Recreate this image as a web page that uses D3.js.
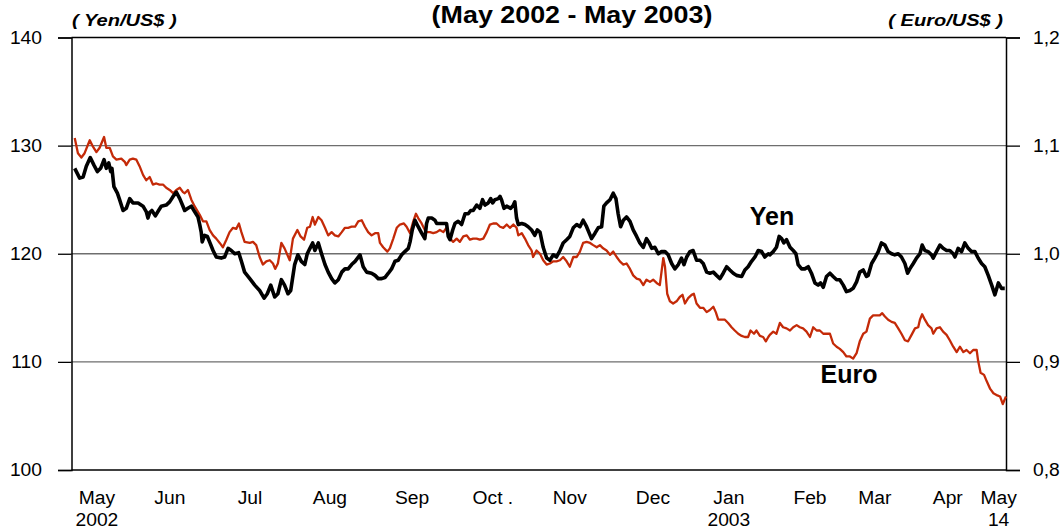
<!DOCTYPE html>
<html><head><meta charset="utf-8">
<script src="https://cdn.jsdelivr.net/npm/d3@7"></script>
<style>body{margin:0;background:#fff}svg{display:block}text{font-family:Arial,"Liberation Sans",sans-serif}</style>
</head><body><svg id="c" width="1064" height="529"></svg>
<script>
// Day offsets from 1 May 2002
const startDate = new Date(2002, 4, 1);
const yenDays = [0.7,2.7,4.1,5.4,7.0,8.5,9.9,11.2,12.6,13.5,14.5,15.3,15.8,16.6,18.0,18.9,20.3,21.6,23.0,24.3,26.4,28.4,29.7,30.4,31.1,32.0,33.4,34.7,35.8,37.8,39.2,40.6,41.9,43.3,44.6,45.3,46.6,48.0,49.3,50.7,51.4,52.0,52.4,53.4,54.5,55.4,56.8,58.1,60.1,61.5,62.9,64.2,65.6,67.2,68.3,69.6,71.7,73.7,75.7,77.5,78.8,80.2,81.8,83.1,84.5,85.8,87.2,88.3,89.9,91.2,92.6,94.0,95.0,96.1,97.2,98.1,99.5,100.8,102.2,103.5,104.9,106.2,107.6,109.0,110.3,111.6,113.0,114.4,116.4,117.7,119.1,121.1,122.5,123.8,125.2,126.5,127.9,129.2,130.6,131.9,133.3,134.6,136.0,136.7,137.6,138.7,140.0,141.4,142.7,143.4,144.1,145.5,146.8,147.5,150.2,151.5,152.2,152.9,154.0,154.9,156.2,157.6,159.0,160.3,161.3,162.3,163.7,165.0,166.1,167.1,168.4,169.4,170.2,171.1,172.5,173.2,173.8,174.8,175.9,177.5,178.6,179.2,179.9,180.6,182.0,183.3,184.6,186.0,187.3,188.3,189.4,190.7,192.1,193.4,194.8,196.1,197.5,198.8,200.2,201.5,202.9,204.3,205.6,206.9,208.3,210.3,211.7,213.0,214.4,215.3,216.4,217.8,219.1,220.2,221.1,222.1,223.2,224.5,225.9,227.2,228.6,229.9,231.3,232.6,233.7,234.7,236.0,237.4,238.7,240.1,241.4,242.8,244.1,245.5,246.8,247.8,248.9,250.2,251.5,252.9,254.3,255.6,257.0,258.3,259.7,261.0,262.4,263.7,265.1,266.4,267.8,269.1,271.2,272.5,273.8,275.2,276.6,277.9,279.3,280.6,282.0,282.6,284.0,285.3,286.4,287.4,288.3,289.4,290.8,292.1,293.2,294.1,295.5,296.8,298.2,299.5,300.9,302.2,303.2,304.3,305.6,307.0,308.3,309.7,311.0,312.4,313.7,315.1,316.4,317.8,319.1,320.5,321.8,322.5,323.9,325.2,326.6,327.9,329.3,330.6,332.0,333.3,334.7,336.0,337.4,338.5,339.4,340.8,342.1,343.5,344.4,345.5,346.8,348.2,348.9,350.2,351.6,352.9,354.3,355.6,357.0,357.7,359.0,360.4,361.7,363.1,364.4,365.8,367.1,368.5,369.8,371.2,372.6,373.9,375.3,376.6,377.9];
const yenValues = [127.9,127.0,127.1,128.1,128.9,128.2,127.6,127.9,128.7,127.9,128.4,127.6,127.9,126.2,125.6,125.0,124.0,124.2,125.1,124.7,124.7,124.4,123.9,123.3,123.8,124.0,123.5,124.0,124.4,124.5,124.8,125.3,125.7,125.1,124.4,124.0,124.2,124.4,123.9,123.4,122.7,122.0,121.1,121.7,121.6,121.1,120.3,119.7,119.6,119.7,120.5,120.3,120.0,120.1,119.3,118.3,117.7,117.1,116.6,115.9,116.3,117.1,116.0,116.3,117.6,117.1,116.3,116.6,119.0,119.9,119.3,119.0,120.0,120.5,121.0,120.3,121.0,120.0,119.0,118.3,117.7,117.3,117.6,118.3,118.6,118.6,119.0,119.3,119.9,118.8,118.3,118.2,118.0,117.7,117.7,117.8,118.2,118.6,119.3,119.4,119.9,120.2,120.5,121.1,122.2,123.1,122.5,121.9,121.4,122.8,123.3,123.3,123.1,122.8,122.8,122.8,121.6,121.3,122.2,122.8,123.0,122.7,123.7,123.7,124.0,124.0,124.5,124.2,125.0,124.5,124.7,125.1,124.7,125.0,125.1,125.3,125.0,124.2,124.4,124.2,124.5,124.8,123.3,122.7,122.8,122.7,122.5,122.2,121.7,122.2,122.0,120.6,119.6,119.4,119.9,119.7,120.3,121.0,121.3,121.6,122.4,122.7,122.5,123.1,122.5,121.4,121.9,122.4,122.5,124.4,124.7,125.0,125.6,125.1,123.7,122.5,123.1,123.4,123.0,122.2,121.6,121.0,120.6,121.4,121.0,120.5,120.6,120.0,120.2,120.2,119.9,119.1,118.6,119.0,119.6,119.0,119.7,120.2,120.3,119.4,119.4,119.1,118.3,118.2,118.3,118.0,117.7,118.2,118.8,118.5,118.2,118.0,117.9,118.5,118.8,119.3,119.7,120.3,120.2,119.7,120.0,119.9,120.2,120.6,121.6,121.4,121.0,121.3,120.6,120.3,120.0,119.0,118.6,118.6,118.8,118.2,117.3,117.1,117.3,116.9,117.9,118.2,117.9,117.6,117.6,117.1,116.5,116.6,116.8,117.4,118.3,118.5,117.9,118.0,119.1,119.6,120.2,121.0,120.8,120.2,120.0,119.9,120.0,119.7,119.1,118.2,118.6,119.1,119.6,120.0,120.8,120.3,120.2,119.9,119.6,120.2,120.8,120.5,120.3,120.3,120.0,119.7,120.5,120.2,121.0,120.5,120.2,120.2,119.6,119.1,118.8,118.0,117.1,116.2,117.3,116.8,116.8];
const euroDays = [0.7,2.0,3.4,4.7,6.8,8.1,9.5,10.8,12.6,13.5,14.9,16.2,17.6,19.6,21.0,21.6,23.0,24.3,25.7,27.0,28.4,29.7,31.1,32.4,33.8,35.1,36.5,37.8,39.2,40.6,41.9,43.3,44.6,45.3,46.6,48.0,49.3,51.4,52.7,54.1,55.4,56.8,58.1,59.5,60.8,62.2,63.5,64.9,66.2,67.3,68.3,69.6,71.7,73.0,74.3,75.7,77.0,78.4,79.8,81.1,82.0,83.1,84.5,85.8,87.9,89.2,91.0,92.3,93.7,95.0,96.1,97.2,98.1,99.5,100.8,102.2,103.5,104.9,106.2,107.6,109.0,110.3,111.6,113.0,114.4,115.7,117.1,118.4,119.7,121.1,122.5,123.8,124.5,125.8,127.5,128.5,129.9,131.3,132.6,134.2,135.3,136.7,138.0,139.1,140.0,141.4,142.7,143.4,144.8,146.1,147.5,148.8,150.2,151.5,152.9,154.2,155.6,156.9,158.3,159.7,161.0,162.3,163.7,165.0,166.4,167.8,169.1,170.4,171.8,173.2,174.5,175.9,177.2,178.6,179.9,180.6,182.0,183.3,184.6,186.0,186.6,188.0,189.4,190.7,192.1,193.4,194.8,196.1,197.5,198.8,200.2,201.5,202.9,204.3,205.6,206.9,208.3,209.7,211.0,212.4,213.7,215.0,216.4,217.8,219.1,220.5,221.8,223.2,224.5,225.9,227.2,228.6,229.9,231.3,232.6,234.0,235.3,236.7,238.0,239.4,240.1,241.0,242.1,243.4,244.8,246.1,247.2,248.2,249.5,250.9,251.8,252.9,254.3,255.6,257.0,258.3,259.7,260.7,261.7,263.0,264.4,265.7,267.1,268.4,269.8,271.2,272.5,273.8,274.8,276.2,277.2,278.6,279.9,281.0,282.0,282.6,284.0,285.3,286.7,288.0,289.4,290.8,292.1,293.5,294.8,296.1,297.5,298.9,300.2,301.6,302.9,304.3,305.6,307.0,308.3,309.7,311.0,312.4,313.7,315.1,316.4,317.8,319.1,320.5,321.8,323.2,324.5,325.9,327.2,328.2,329.3,330.6,332.0,333.3,334.7,336.0,337.4,338.7,340.1,341.5,342.8,343.5,344.4,345.5,346.8,348.2,348.9,350.2,351.6,352.9,354.3,355.6,357.0,358.4,359.7,361.1,362.4,363.8,365.1,366.5,367.1,368.1,369.5,370.6,372.0,373.3,374.9,376.0,377.1,378.4];
const euroValues = [1.107,1.093,1.089,1.093,1.105,1.099,1.094,1.098,1.108,1.098,1.098,1.090,1.087,1.088,1.085,1.082,1.087,1.088,1.087,1.081,1.073,1.068,1.071,1.064,1.065,1.064,1.064,1.061,1.059,1.056,1.059,1.061,1.057,1.056,1.059,1.050,1.044,1.036,1.030,1.030,1.022,1.017,1.014,1.010,1.006,1.013,1.020,1.024,1.023,1.028,1.020,1.011,1.010,1.011,1.008,0.997,0.990,0.993,0.994,0.991,0.986,0.991,1.010,1.005,0.994,1.014,1.022,1.016,1.013,1.024,1.025,1.034,1.027,1.034,1.031,1.024,1.017,1.020,1.017,1.016,1.020,1.024,1.024,1.025,1.025,1.030,1.031,1.025,1.020,1.017,1.019,1.019,1.010,1.006,1.002,1.005,1.014,1.024,1.027,1.028,1.025,1.019,1.030,1.037,1.033,1.028,1.022,1.020,1.020,1.019,1.020,1.022,1.020,1.024,1.014,1.011,1.014,1.011,1.016,1.017,1.013,1.014,1.014,1.013,1.014,1.020,1.027,1.028,1.028,1.025,1.024,1.027,1.024,1.027,1.024,1.017,1.019,1.014,1.008,1.003,0.997,1.003,1.000,0.994,0.990,0.991,0.993,0.993,0.994,0.997,0.993,0.988,0.997,0.997,1.002,1.010,1.011,1.010,1.008,1.006,1.008,1.005,1.003,0.999,1.002,0.997,0.993,0.990,0.991,0.986,0.980,0.977,0.976,0.971,0.976,0.974,0.976,0.973,0.971,0.996,0.988,0.963,0.956,0.954,0.956,0.960,0.962,0.954,0.959,0.962,0.963,0.954,0.950,0.950,0.946,0.948,0.951,0.946,0.939,0.939,0.939,0.936,0.932,0.929,0.926,0.924,0.923,0.923,0.929,0.926,0.929,0.924,0.923,0.919,0.923,0.925,0.928,0.926,0.936,0.932,0.931,0.929,0.932,0.934,0.932,0.931,0.928,0.923,0.932,0.929,0.929,0.926,0.926,0.926,0.917,0.914,0.912,0.909,0.905,0.905,0.903,0.908,0.919,0.926,0.928,0.940,0.943,0.943,0.943,0.945,0.942,0.939,0.937,0.936,0.931,0.926,0.920,0.919,0.925,0.931,0.932,0.939,0.944,0.939,0.934,0.931,0.926,0.931,0.932,0.928,0.925,0.920,0.914,0.909,0.914,0.909,0.911,0.908,0.911,0.911,0.901,0.890,0.888,0.882,0.875,0.871,0.869,0.868,0.861,0.868];
const yenTicks = [100, 110, 120, 130, 140];
const euroTicks = [0.8, 0.9, 1.0, 1.1, 1.2];
const monthLabels = ["May", "Jun", "Jul", "Aug", "Sep", "Oct .", "Nov", "Dec", "Jan", "Feb", "Mar", "Apr", "May"];
const monthLabelDays = [9.7, 39.3, 71.8, 104.2, 137.5, 170.3, 201.5, 235.2, 266, 298.9, 325.2, 354.8, 375.4];
const subLabels = [["2002", 0], ["2003", 8], ["14", 12]];

const svg = d3.select("#c");
const L = 71.5, R = 1006, T = 37.5, B = 470;
const day = d => new Date(startDate.getTime() + d * 864e5);
const x = d3.scaleTime().domain([day(0), day(378)]).range([73, 1005]);
const y = d3.scaleLinear().domain([100, 140]).range([B, T]);
const y2 = d3.scaleLinear().domain([0.8, 1.2]).range([B, T]);

// horizontal stretch of glyphs (reference text is slightly wide)
function stretch(sel, sx) {
  sel.each(function () {
    const t = d3.select(this);
    const xx = +(t.attr("x") || 0);
    t.attr("x", xx / sx).attr("transform", `scale(${sx},1)`);
  });
}
function label(xp, yp, str, size, sx, opts = {}) {
  const t = svg.append("text").attr("x", xp / sx).attr("y", yp)
    .attr("transform", `scale(${sx},1)`).attr("font-size", size)
    .attr("text-anchor", opts.anchor || "start").text(str);
  if (opts.bold) t.attr("font-weight", "bold");
  if (opts.italic) t.attr("font-style", "italic");
  return t;
}

// gridlines
svg.append("g").selectAll("line").data([110, 120, 130]).join("line")
  .attr("x1", L).attr("x2", R).attr("y1", d => y(d)).attr("y2", d => y(d))
  .attr("stroke", "#6e6e6e").attr("stroke-width", 1.3);

// left axis
const gl = svg.append("g").attr("transform", `translate(${L},0)`)
  .call(d3.axisLeft(y).tickValues(yenTicks).tickSize(13.5).tickPadding(16).tickFormat(d3.format("d")));
gl.select(".domain").attr("stroke", "#000").attr("stroke-width", 1.5);
gl.selectAll(".tick line").attr("stroke", "#000").attr("stroke-width", 1.3);
gl.selectAll("text").attr("font-size", 18).attr("fill", "#000").attr("font-family", "Arial, 'Liberation Sans', sans-serif").call(stretch, 1.07);

// right axis
const gr = svg.append("g").attr("transform", `translate(${R},0)`)
  .call(d3.axisRight(y2).tickValues(euroTicks).tickSize(14).tickPadding(13).tickFormat(d => d3.format(".1f")(d).replace(".", ",")));
gr.select(".domain").attr("stroke", "#000").attr("stroke-width", 1.5);
gr.selectAll(".tick line").attr("stroke", "#000").attr("stroke-width", 1.3);
gr.selectAll("text").attr("font-size", 18).attr("fill", "#000").attr("font-family", "Arial, 'Liberation Sans', sans-serif").call(stretch, 1.07);

// top and bottom border
svg.append("line").attr("x1", L).attr("x2", R).attr("y1", y(140)).attr("y2", y(140)).attr("stroke", "#000").attr("stroke-width", 1.5);
svg.append("line").attr("x1", L).attr("x2", R).attr("y1", y(100)).attr("y2", y(100)).attr("stroke", "#000").attr("stroke-width", 1.5);

// series
const euroLine = d3.line().x((d, i) => x(day(euroDays[i]))).y(d => y2(d));
svg.append("path").datum(euroValues).attr("d", euroLine)
  .attr("fill", "none").attr("stroke", "#c42a08").attr("stroke-width", 2.3).attr("stroke-linejoin", "round");
const yenLine = d3.line().x((d, i) => x(day(yenDays[i]))).y(d => y(d));
svg.append("path").datum(yenValues).attr("d", yenLine)
  .attr("fill", "none").attr("stroke", "#000").attr("stroke-width", 3.6).attr("stroke-linejoin", "round");

// month labels
svg.append("g").selectAll("text").data(monthLabels).join("text")
  .attr("x", (d, i) => x(day(monthLabelDays[i]))).attr("y", 504)
  .attr("text-anchor", "middle").attr("font-size", 18).text(d => d).call(stretch, 1.07);
svg.append("g").selectAll("text").data(subLabels).join("text")
  .attr("x", d => x(day(monthLabelDays[d[1]]))).attr("y", 526)
  .attr("text-anchor", "middle").attr("font-size", 18).text(d => d[0]).call(stretch, 1.07);

// titles
label(572, 23, "(May 2002 - May 2003)", 24, 1.12, { anchor: "middle", bold: true });
label(72, 26, "( Yen/US$ )", 17, 1.18, { bold: true, italic: true });
label(1003, 26, "( Euro/US$ )", 17, 1.18, { anchor: "end", bold: true, italic: true });
label(772, 225, "Yen", 25, 1.0, { anchor: "middle", bold: true });
label(849, 383, "Euro", 25, 1.0, { anchor: "middle", bold: true });
</script></body></html>
